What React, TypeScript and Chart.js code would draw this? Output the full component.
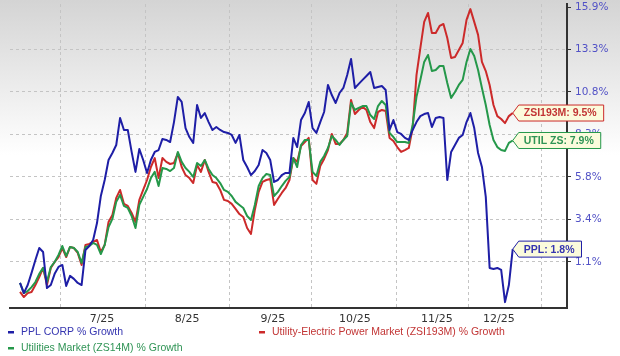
import React, { useEffect, useRef } from 'react';
import { Chart, registerables } from 'chart.js';

Chart.register(...registerables);

// ---- data ----
const seriesNames = [
  'PPL CORP % Growth',
  'Utility-Electric Power Market (ZSI193M) % Growth',
  'Utilities Market (ZS14M) % Growth',
];
const tagNames = ['PPL', 'ZSI193M', 'UTIL ZS'];

const yTickLabels = ['1.1%', '3.4%', '5.8%', '8.3%', '10.8%', '13.3%', '15.9%'];
const monthLabels = ['7/25', '8/25', '9/25', '10/25', '11/25', '12/25'];
// positions in trading-day index units
const monthLabelDay = [21.3, 43.4, 65.7, 87.0, 108.3, 124.4];
const monthStartDay = [10.4, 32.5, 54.3, 75.8, 97.7, 116.4, 135.6];

const pplGrowth = [
  -0.03, -0.57, -0.14, 0.51, 1.21, 1.86, 1.64, -0.3, -0.14, 0.46,
  0.83, 0.94, -0.19, 0.35, 0.19, -0.03, -0.14, 1.75, 1.97, 2.3,
  3.23, 4.74, 5.64, 6.78, 7.18, 7.64, 9.21, 8.51, 8.51, 7.24,
  6.1, 7.41, 6.78, 6.04, 6.78, 7.24, 7.35, 7.99, 7.93, 7.81,
  8.97, 10.45, 10.15, 8.62, 8.1, 7.76, 9.97, 9.21, 9.5, 8.97,
  8.51, 8.68, 8.51, 8.39, 8.34, 8.22, 7.76, 8.22, 6.78, 6.38,
  5.92, 6.15, 6.49, 7.35, 7.18, 6.78, 5.53, 5.64, 5.92, 6.04,
  6.04, 8.05, 7.52, 9.09, 9.5, 10.15, 8.62, 8.34, 8.97, 9.56,
  11.16, 10.56, 10.09, 10.68, 10.98, 11.75, 12.72, 10.98, 11.22, 11.46,
  11.69, 11.93, 10.98, 11.04, 11.1, 10.86, 8.51, 9.09, 8.39, 8.28,
  8.05, 7.93, 8.51, 8.97, 9.32, 9.44, 9.5, 8.68, 9.21, 9.27,
  9.21, 5.64, 7.24, 7.64, 8.05, 8.22, 8.97, 9.5, 8.62, 7.18,
  6.38, 4.69, 0.78, 0.72, 0.78, 0.67, -1.05, -0.14, 1.8,
];

const zsi193mGrowth = [
  -0.51, -0.78, -0.57, -0.51, -0.14, 0.29, 0.78, -0.14, 0.78, 1.1,
  1.37, 1.86, 1.37, 1.92, 1.86, 1.59, 0.94, 2.03, 2.08, 2.19,
  2.3, 1.64, 2.03, 3.29, 3.68, 4.63, 5.08, 4.3, 4.18, 3.79,
  3.29, 4.52, 5.08, 5.64, 6.38, 6.89, 5.75, 6.89, 6.67, 6.55,
  6.61, 7.18, 6.38, 5.92, 5.75, 5.47, 6.49, 6.1, 6.78, 6.1,
  5.53, 5.47, 5.08, 4.52, 4.46, 4.3, 4.02, 3.73, 3.57, 2.96,
  2.63, 3.96, 4.97, 5.53, 5.64, 5.7, 4.24, 4.58, 4.91, 5.19,
  5.64, 6.89, 6.67, 7.58, 7.81, 8.05, 5.64, 5.42, 6.44, 6.84,
  7.35, 8.28, 7.7, 7.7, 7.93, 8.34, 10.27, 9.44, 9.68, 9.86,
  9.68, 8.97, 8.62, 9.56, 9.68, 9.62, 8.05, 7.87, 7.52, 7.24,
  7.35, 7.47, 8.62, 11.75, 13.38, 14.98, 15.53, 14.3, 14.3, 14.73,
  14.85, 13.99, 12.78, 12.84, 13.26, 13.69, 15.1, 15.77, 14.98, 14.18,
  12.54, 11.99, 11.16, 9.97, 9.32, 9.15, 8.91, 9.32, 9.5,
];

const utilGrowth = [
  -0.03, -0.57, -0.46, -0.25, 0.02, 0.46, 0.78, 0.02, 0.83, 1.1,
  1.48, 1.97, 1.42, 1.92, 1.86, 1.64, 1.05, 1.92, 1.97, 2.14,
  2.03, 1.53, 2.03, 3.01, 3.46, 4.41, 4.8, 4.18, 4.07, 3.62,
  2.96, 4.24, 4.69, 5.13, 5.75, 6.1, 5.3, 6.32, 6.27, 6.15,
  6.32, 7.24, 6.67, 6.32, 6.1, 5.81, 6.61, 6.44, 6.78, 6.27,
  5.92, 5.75, 5.47, 5.08, 4.97, 4.74, 4.41, 4.24, 4.07, 3.62,
  3.4, 4.24, 5.3, 5.75, 5.98, 5.92, 4.74, 4.97, 5.3, 5.59,
  5.81, 6.89, 6.38, 7.64, 7.93, 7.93, 6.1, 5.87, 6.67, 7.01,
  7.47, 8.16, 7.93, 7.64, 7.93, 8.16, 10.09, 9.68, 9.8, 9.91,
  9.91, 9.38, 9.15, 9.91, 10.21, 9.97, 8.34, 8.1, 7.81, 7.81,
  7.81, 7.76, 8.8, 10.45, 11.46, 12.54, 12.96, 11.99, 12.05, 12.29,
  12.29, 11.28, 10.39, 10.74, 11.16, 11.46, 12.54, 13.32, 12.9, 12.05,
  10.98, 9.97, 8.8, 7.93, 7.52, 7.35, 7.3, 7.76, 7.9,
];

// ---- styles ----
const lineColors = ['#1e1ea6', '#cc2a2a', '#25984a'];
const textColors = ['#3535b0', '#c23535', '#2f9455'];

// growth axis is linear in ln(1 + g)
const toAxis = (g: number) => Math.log1p(g / 100);
const L0 = toAxis(parseFloat(yTickLabels[0]));
const LN = toAxis(parseFloat(yTickLabels[yTickLabels.length - 1]));
const yStep = (LN - L0) / (yTickLabels.length - 1);

const allSeries = [pplGrowth, zsi193mGrowth, utilGrowth];

const bgPlugin = {
  id: 'bgGradient',
  beforeDraw(chart: any) {
    const { ctx, width, height } = chart;
    const g = ctx.createLinearGradient(0, 0, 0, 155);
    g.addColorStop(0, '#d4d4d4');
    g.addColorStop(1, '#ffffff');
    ctx.save();
    ctx.fillStyle = '#ffffff';
    ctx.fillRect(0, 0, width, height);
    ctx.fillStyle = g;
    ctx.fillRect(0, 0, width, 155);
    ctx.restore();
  },
};

const overlayPlugin = {
  id: 'overlay',
  afterDraw(chart: any) {
    const { ctx } = chart;
    ctx.save();
    // end-of-line tags
    ctx.font = 'bold 10.5px "Liberation Sans", Arial, sans-serif';
    ctx.textBaseline = 'middle';
    chart.data.datasets.forEach((ds: any, i: number) => {
      const meta = chart.getDatasetMeta(i);
      const pt = meta.data[meta.data.length - 1];
      if (!pt) return;
      const vals = allSeries[i];
      const text = `${tagNames[i]}: ${vals[vals.length - 1].toFixed(1)}%`;
      const w = ctx.measureText(text).width;
      const x = pt.x;
      const y = pt.y;
      const h = 16;
      const boxL = x + 6;
      const boxR = boxL + w + 12;
      ctx.beginPath();
      ctx.moveTo(x, y);
      ctx.lineTo(boxL, y - h / 2);
      ctx.lineTo(boxR, y - h / 2);
      ctx.lineTo(boxR, y + h / 2);
      ctx.lineTo(boxL, y + h / 2);
      ctx.closePath();
      ctx.fillStyle = '#fbfbdc';
      ctx.fill();
      ctx.lineWidth = 1;
      ctx.strokeStyle = lineColors[i];
      ctx.stroke();
      ctx.fillStyle = textColors[i];
      ctx.textAlign = 'left';
      ctx.fillText(text, boxL + 5, y + 0.5);
    });

    // legend
    ctx.font = '10.5px "Liberation Sans", Arial, sans-serif';
    ctx.textAlign = 'left';
    ctx.textBaseline = 'middle';
    const legendPos = [
      [8, 332],
      [259, 332],
      [8, 348],
    ];
    seriesNames.forEach((name, i) => {
      const [lx, ly] = legendPos[i];
      ctx.fillStyle = lineColors[i];
      ctx.fillRect(lx, ly - 1, 6, 2.5);
      ctx.fillStyle = textColors[i];
      ctx.fillText(name, lx + 13, ly);
    });
    ctx.restore();
  },
};

export default function App() {
  const ref = useRef<HTMLCanvasElement>(null);

  useEffect(() => {
    if (!ref.current) return;
    const order = [0, 2, 1]; // blue on top, then green, then red
    const datasets = order.map((k) => ({
      label: seriesNames[k],
      data: allSeries[k].map((g, i) => ({ x: i, y: toAxis(g) })),
      borderColor: lineColors[k],
      backgroundColor: lineColors[k],
      borderWidth: 2,
      pointRadius: 0,
      tension: 0,
      borderJoinStyle: 'round' as const,
      fill: false,
    }));
    // tags/legend index by series index; keep mapping
    const ordered = order.map((k) => k);

    const chart = new Chart(ref.current, {
      type: 'line',
      data: { datasets },
      options: {
        animation: false,
        responsive: false,
        maintainAspectRatio: false,
        layout: { padding: { left: 10, top: 4, right: 0, bottom: 0 } },
        plugins: { legend: { display: false }, tooltip: { enabled: false } },
        scales: {
          x: {
            type: 'linear',
            min: -2.6,
            max: 142.1,
            afterBuildTicks: (s: any) => {
              s.ticks = [...monthStartDay, ...monthLabelDay]
                .sort((a, b) => a - b)
                .map((v) => ({ value: v }));
            },
            afterFit: (s: any) => {
              s.height = 48;
              s.paddingLeft = 0;
              s.paddingRight = 0;
            },
            grid: {
              color: (c: any) =>
                c.tick && monthStartDay.includes(c.tick.value) ? '#c4c4c4' : 'rgba(0,0,0,0)',
              lineWidth: 1,
              drawTicks: false,
            },
            border: { display: true, color: '#333333', width: 2, dash: [3, 3] },
            ticks: {
              autoSkip: false,
              maxRotation: 0,
              padding: 5,
              color: '#333333',
              font: { family: 'DejaVu Sans', size: 11 },
              callback: (v: any) => {
                const k = monthLabelDay.indexOf(Number(v));
                return k >= 0 ? monthLabels[k] : '';
              },
            },
          },
          y: {
            type: 'linear',
            position: 'right',
            min: L0 - 1.0824 * yStep,
            max: L0 + 6.0706 * yStep,
            afterBuildTicks: (s: any) => {
              s.ticks = yTickLabels.map((_, k) => ({ value: L0 + k * yStep }));
            },
            afterFit: (s: any) => {
              s.width = 53;
              s.paddingTop = 0;
              s.paddingBottom = 0;
            },
            grid: {
              color: (c: any) =>
                c.index === yTickLabels.length - 1 ? 'rgba(0,0,0,0)' : '#c4c4c4',
              lineWidth: 1,
              tickColor: '#333333',
              tickLength: 4,
              tickWidth: 1,
              tickBorderDash: [],
            },
            border: { display: true, color: '#333333', width: 2, dash: [3, 3] },
            ticks: {
              padding: 4,
              color: '#5252c6',
              font: { family: 'DejaVu Sans', size: 10.5 },
              callback: (_v: any, i: number) => yTickLabels[i],
            },
          },
        },
      } as any,
      plugins: [bgPlugin, {
        id: 'overlayWrap',
        afterDraw(chart: any) {
          // remap dataset order back to series order for the overlay
          const fake = {
            ctx: chart.ctx,
            data: { datasets: seriesNames.map(() => ({})) },
            getDatasetMeta: (i: number) => chart.getDatasetMeta(ordered.indexOf(i)),
          };
          overlayPlugin.afterDraw(fake);
        },
      }],
    });
    return () => chart.destroy();
  }, []);

  return (
    <div style={{ position: 'absolute', left: 0, top: 0, width: 620, height: 356, background: '#ffffff' }}>
      <canvas ref={ref} width={620} height={356} style={{ display: 'block', width: 620, height: 356 }} />
    </div>
  );
}
